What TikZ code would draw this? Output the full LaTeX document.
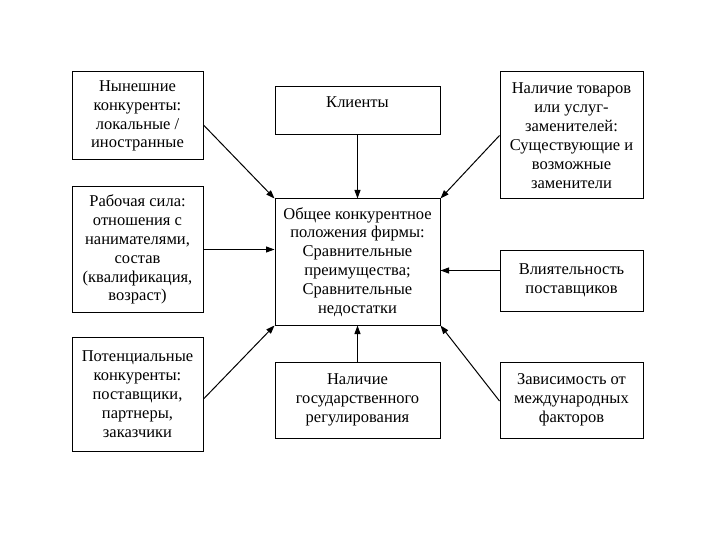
\documentclass[tikz,border=0pt]{standalone}
\usepackage{fontspec}
\setmainfont{Liberation Serif}
\usetikzlibrary{arrows.meta}
\begin{document}
\begin{tikzpicture}[x=1pt,y=-1pt,
  box/.style={draw=black,line width=1pt,align=center,inner sep=1pt,
    font=\fontsize{16.5}{18.9}\selectfont},
  colL/.style={box,minimum width=131pt},
  colC/.style={box,minimum width=165pt},
  colR/.style={box,minimum width=143pt},
  arr/.style={line width=1pt,-{Triangle[length=8.5pt,width=6pt]}}]
\useasboundingbox (0,0) rectangle (720,540);
\fill[white] (0,0) rectangle (720,540);
\node[colL,minimum height=88pt] (TL) at (137.5,116) {Нынешние\\конкуренты:\\локальные /\\иностранные};
\node[colC,minimum height=48pt,text depth=17pt] (K) at (357.5,111) {Клиенты};
\node[colR,minimum height=127pt] (TR) at (571.5,135.5) {Наличие товаров\\или услуг-\\заменителей:\\Существующие и\\возможные\\заменители};
\node[colL,minimum height=125pt] (ML) at (137.5,249.5) {Рабочая сила:\\отношения с\\нанимателями,\\состав\\(квалификация,\\возраст)};
\node[colC,minimum height=126pt] (C) at (357.5,262) {Общее конкурентное\\положения фирмы:\\Сравнительные\\преимущества;\\Сравнительные\\недостатки};
\node[colR,minimum height=61pt] (MR) at (571.5,280.5) {Влиятельность\\поставщиков};
\node[colL,minimum height=114pt] (BL) at (137.5,394) {Потенциальные\\конкуренты:\\поставщики,\\партнеры,\\заказчики};
\node[colC,minimum height=76pt] (BC) at (357.5,400) {Наличие\\государственного\\регулирования};
\node[colR,minimum height=76pt] (BR) at (571.5,400) {Зависимость от\\международных\\факторов};
\draw[arr] ([yshift=-9pt]TL.east) -- (C.north west);
\draw[arr] (K.south) -- (C.north);
\draw[arr] (TR.west) -- (C.north east);
\draw[arr] (ML.east) -- (ML.east -| C.west);
\draw[arr] ([yshift=10pt]MR.west) -- ([yshift=10pt]MR.west -| C.east);
\draw[arr] ([yshift=-5pt]BL.east) -- (C.south west);
\draw[arr] (BC.north) -- (C.south);
\draw[arr] ([yshift=-1pt]BR.west) -- (C.south east);
\end{tikzpicture}
\end{document}
